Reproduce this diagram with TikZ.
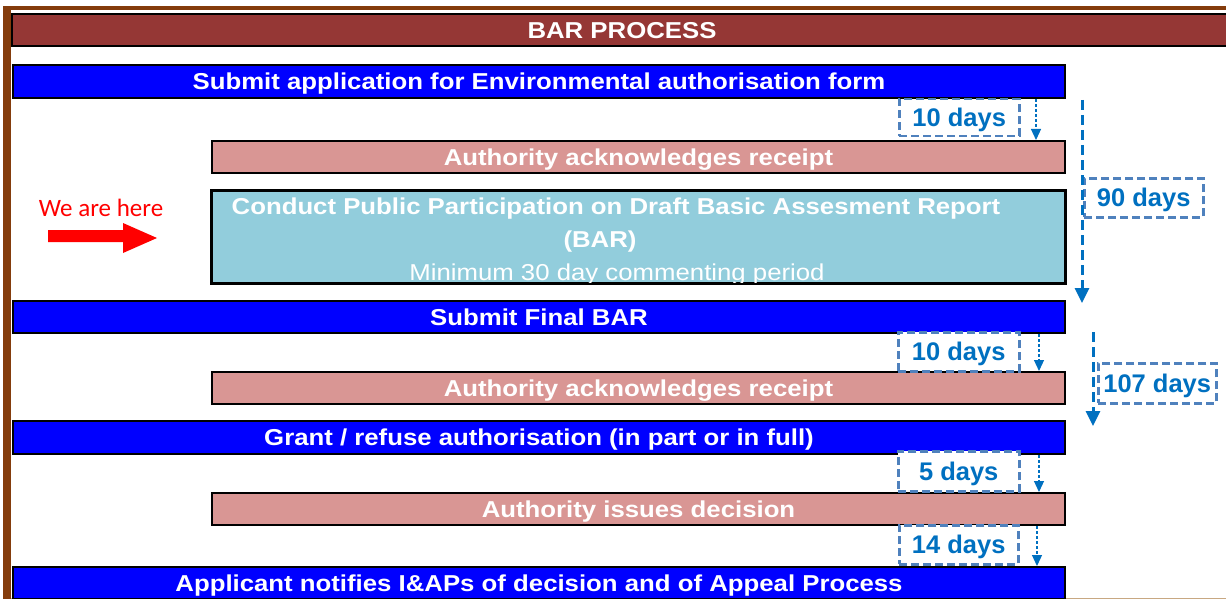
\documentclass[tikz,border=0pt]{standalone}
\usepackage{fontspec}
\setmainfont{Liberation Sans}
\newfontfamily\barfont{Liberation Sans}[FakeStretch=1.12]
\newfontfamily\calfont{Carlito}
\usetikzlibrary{arrows.meta}
\definecolor{hdrc}{HTML}{953735}
\definecolor{barblue}{HTML}{0000FF}
\definecolor{pinkc}{HTML}{D99694}
\definecolor{cyanc}{HTML}{92CDDC}
\definecolor{dayc}{HTML}{0070C0}
\definecolor{dashc}{HTML}{4F81BD}
\definecolor{brownc}{HTML}{843C0C}
\definecolor{tanc}{HTML}{C8A882}
\tikzset{
  bar/.style={draw=black, line width=2pt, inner sep=0pt, anchor=north west,
    font=\barfont\bfseries\fontsize{23}{27}\selectfont, text=white,
    text height=16.5pt, text depth=0pt},
  bluebar/.style={bar, fill=barblue, minimum width=1052pt},
  pinkbar/.style={bar, fill=pinkc, minimum width=853pt, minimum height=32pt},
  daybox/.style={draw=dashc, line width=2.5pt, dash pattern=on 8pt off 4pt,
    fill=white, anchor=north west, inner sep=0pt, text=dayc,
    font=\bfseries\fontsize{25.5}{30}\selectfont, text height=18.3pt, text depth=0pt},
  smallarr/.style={draw=dayc, line width=1.2pt, dash pattern=on 3pt off 2pt,
    -{Triangle[length=11pt,width=10pt]}},
  bigarr/.style={draw=dayc, line width=3pt, dash pattern=on 10pt off 5pt,
    -{Triangle[length=15pt,width=14pt]}},
  cytext/.style={anchor=base, text=white, font=\barfont\bfseries\fontsize{23}{27}\selectfont},
}
\begin{document}
\begin{tikzpicture}[x=1pt,y=-1pt]
\useasboundingbox (0,0) rectangle (1226,599);
\clip (0,0) rectangle (1226,599);
\fill[white] (0,0) rectangle (1226,599);
% frame
\fill[brownc] (3,6) rectangle (11,599);
\fill[brownc] (3,6) rectangle (1226,10);
\draw[tanc, line width=1pt] (11,598) -- (1226,598);
% header
\node[bar, fill=hdrc, minimum width=1220pt, minimum height=32pt] (hdr) at (11,13) {BAR PROCESS};
% bars
\node[bluebar, minimum height=33pt] (b1) at (12,64) {Submit application for Environmental authorisation form};
\node[pinkbar] (p1) at (211,140) {Authority acknowledges receipt};
\node[draw=black, line width=2pt, fill=cyanc, anchor=north west, inner sep=0pt,
  minimum width=853pt, minimum height=92pt] (cy) at (211,190) {};
\begin{scope}
  \clip (cy.north west) rectangle (cy.south east);
  \node[cytext] (cy1) at (616,214) {Conduct Public Participation on Draft Basic Assesment Report};
  \node[cytext] (cy2) at (600,247) {(BAR)};
  \node[anchor=base, text=white, font=\barfont\fontsize{23}{27}\selectfont] (cy3) at (617,280) {Minimum 30 day commenting period};
\end{scope}
\draw[black, line width=2pt] (cy.north west) rectangle (cy.south east);
\node[bluebar, minimum height=32pt] (b2) at (12,300) {Submit Final BAR};
\node[pinkbar] (p2) at (211,371) {Authority acknowledges receipt};
\node[bluebar, minimum height=33pt] (b3) at (12,420) {Grant / refuse authorisation (in part or in full)};
\node[pinkbar] (p3) at (211,492) {Authority issues decision};
\node[bluebar, minimum height=32pt] (b4) at (12,566) {Applicant notifies I\&APs of decision and of Appeal Process};
% day boxes
\node[daybox, minimum width=120pt, minimum height=37pt] (d1) at (898,98) {10 days};
\node[daybox, minimum width=119pt, minimum height=39pt] (d90) at (1083,177) {90 days};
\node[daybox, minimum width=121pt, minimum height=39pt] (d2) at (897,331) {10 days};
\node[daybox, minimum width=118pt, minimum height=40pt] (d107) at (1097,362) {107 days};
\node[daybox, minimum width=121pt, minimum height=40pt] (d5) at (897,450) {5 days};
\node[daybox, minimum width=119pt, minimum height=39pt] (d14) at (898,524) {14 days};
% small arrows
\coordinate (xa1) at (1036,0);
\coordinate (xa2) at (1039,0);
\coordinate (xa3) at (1039,0);
\coordinate (xa4) at (1037,0);
\draw[smallarr] (b1.south -| xa1) -- (p1.north -| xa1);
\draw[smallarr] (b2.south -| xa2) -- (p2.north -| xa2);
\draw[smallarr] (b3.south -| xa3) -- (p3.north -| xa3);
\draw[smallarr] (p3.south -| xa4) -- (b4.north -| xa4);
% big arrows
\coordinate (g1s) at (1082,100);
\coordinate (g1e) at (1082,303);
\coordinate (g2s) at (1093,332);
\coordinate (g2e) at (1093,426);
\draw[bigarr] (g1s) -- (g1e);
\draw[bigarr] (g2s) -- (g2e);
% we are here
\node[font=\calfont\fontsize{25}{30}\selectfont, text=red, anchor=base] (here) at (101,216.5) {We are here};
\fill[red] (48,230) -- (123,230) -- (123,223) -- (157,238) -- (123,253) -- (123,242) -- (48,242) -- cycle;
\end{tikzpicture}
\end{document}
